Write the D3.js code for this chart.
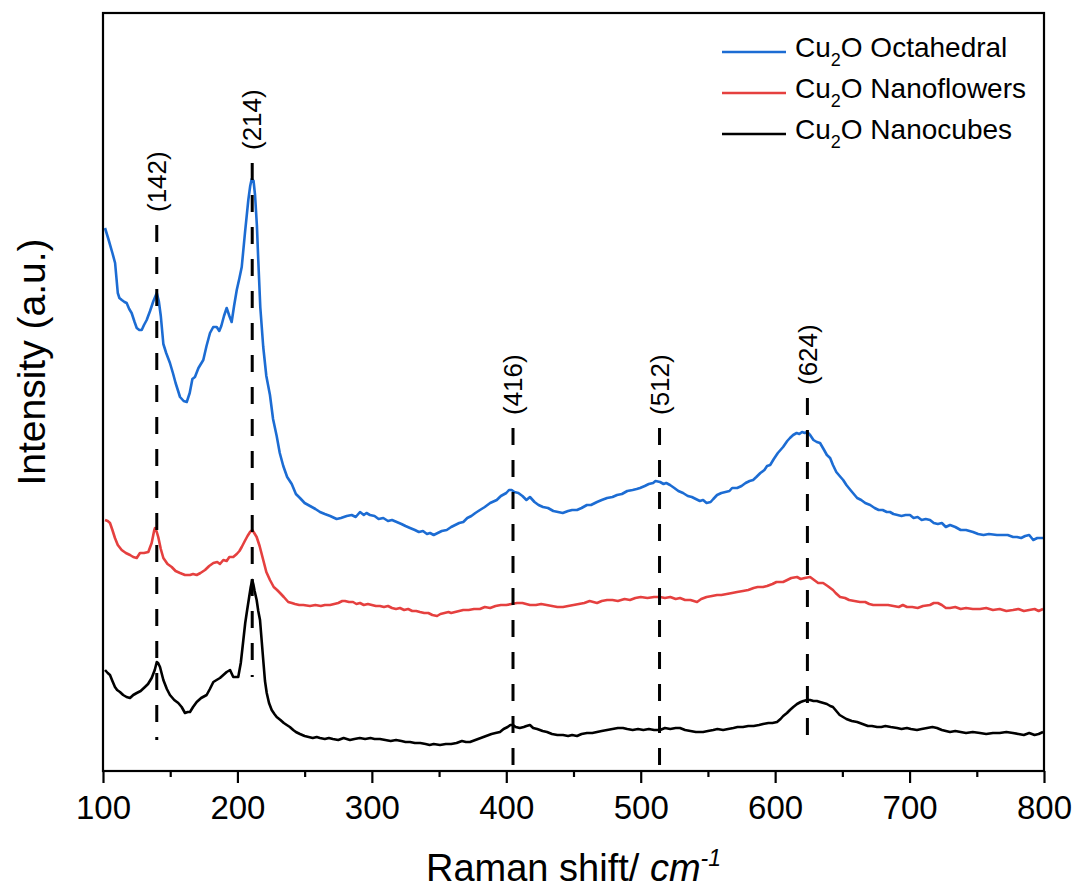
<!DOCTYPE html>
<html>
<head>
<meta charset="utf-8">
<script src="https://cdn.jsdelivr.net/npm/d3@7"></script>
<style>
  body { margin: 0; background: #fff; }
  text { font-family: "Liberation Sans", Arial, sans-serif; fill: #000; }
</style>
</head>
<body>
<script>
// Raman spectra, [shift cm-1, intensity a.u.]
var octahedral = [[101.5,543],[104,532],[107,518],[109,508],[111,478],[112.2,473],[114,471],[116,469],[117.6,468],[119.5,462],[121.3,458],[123.5,449],[125.1,443],[127,441],[128.8,441],[130.5,446],[132.5,451],[135,460],[137.5,470],[140,478],[141.5,470],[143,455],[144.9,427],[147,418],[149.8,408],[152,398],[154,388],[157.3,374],[160,370],[162.3,369],[164.5,378],[166.5,392],[168.4,394],[171,403],[174.6,411],[177,425],[179.6,438],[182,444],[184.6,444],[186.5,440],[188,445],[190,455],[192,463],[194,455],[195.7,449],[197.5,465],[199.5,481],[201.5,493],[203.2,504],[205.6,538],[208.1,571],[209.5,585],[210.6,592],[212,590],[213.1,576],[214.5,545],[215.5,511],[217,464],[219.2,424],[221.5,395],[224.2,376],[226.5,352],[229.2,335],[231.5,318],[234.1,305],[237,294],[240.4,287],[243.5,277],[246.5,273],[250,268],[254,265],[258,262],[261.4,259],[265,257],[269,255],[273.8,252],[277,253],[281.3,255],[285,256],[288,254],[291.2,259],[294,256],[296,258],[298.6,256],[302,255],[305,252],[308.5,253],[312,250],[315,251],[318.5,249],[322,247],[325,245],[328.4,243],[332,241],[335,239],[338,240],[341,237],[343.3,238],[346,236],[349,238],[352,240],[355.7,241],[359,244],[362,246],[365,248],[368,249],[371,253],[374,255],[377,258],[380.4,261],[384,264],[388,268],[392.9,271],[396,275],[400,278],[402,281],[404,281],[406,279],[409,278],[412,275],[415,271],[417.6,274],[421,269],[424,266],[427.3,264],[431,263],[435,260],[438.5,259],[442,258],[446,260],[449,261],[452.6,261],[456,263],[460,266],[463,266],[467.5,269],[471,271],[475,273],[479,274],[482.4,276],[486,277],[490,280],[494,281],[497,282],[499.5,283],[503,285],[506,287],[509.2,288],[511,290],[514.4,289],[517,287],[519,288],[521.8,286],[525,283],[528,280],[531.5,278],[535,275],[538,274],[541,272],[544,270],[546.4,271],[549,268],[552,269],[554,272],[556.8,276],[560,278],[563,279],[566,280],[568,283],[571.7,283],[575,285],[578,288],[581,290],[583.6,291],[586,294],[589,298],[592,301],[594,305],[596.3,306],[599,312],[602,318],[605.9,324],[609,330],[611,333],[613.4,336],[616,338],[618,337],[620,339],[622,338],[623.8,339],[626,336],[628.5,331],[631,329],[633.4,328],[636,322],[638.5,316],[640.9,313],[643,306],[645.5,299],[648,295],[650.6,291],[653,286],[656,281],[658.5,277],[661,273],[664,271],[667,268],[670.7,266],[674,263],[677,261],[680,261],[683,259],[685.4,259],[688,257],[691,256],[694,255],[697,256],[700.3,256],[703,253],[706,254],[709,251],[712,252],[715.2,251],[718,248],[721,247],[724,248],[727,244],[730.1,246],[734,244],[738,241],[742,241],[747.2,239],[751,237],[755,236],[759,237],[765,236],[769,236],[773,236],[777,234],[779.9,234],[783,233],[786,235],[789,236],[792,231],[795,233],[799.3,233]];

var nanoflowers = [[101.5,251],[103.5,250],[105.2,248],[107,241],[108.9,233],[111,226],[113.9,221],[117,218],[120.1,216],[122.5,214],[125.1,213],[127.5,218],[130.5,218],[133.7,219],[136.2,228],[138,240],[138.7,243],[140,239],[141.1,234],[143,222],[144.9,213],[148,207],[151.1,204],[154,200],[157.3,198],[161,196],[164.7,196],[167,197],[169.7,196],[172.5,198],[175.9,201],[179,205],[182.1,208],[185,209],[187,207],[189.5,211],[192,210],[194,214],[196.9,214],[199.5,217],[201.5,220],[203.2,224],[205.5,230],[207.5,235],[209.4,239],[211,241],[212.5,238],[214.3,234],[216.5,225],[219.2,211],[221.5,199],[224.2,191],[227,184],[229.5,181],[231.7,178],[234.5,174],[237.8,169],[240.5,168],[242.8,167],[246,166],[249,166],[254,165],[258,166],[262,165],[265,166],[268.9,166],[272,167],[275,168],[278,170],[280,170],[283,169],[286,169],[288.5,167],[291.2,168],[294,166],[297,167],[300,166],[303,165],[306,165],[309,164],[312,165],[315,163],[318,162],[320.9,163],[324,161],[327,162],[330,160],[333,160],[335.8,159],[339,158],[342,158],[345,156],[348.5,155],[351,157],[354,158],[357,159],[359,158],[361.9,159],[365,160],[368,161],[372,161],[376,162],[380.4,162],[384,164],[388,163],[392,165],[396,166],[400,166],[404,167],[408,168],[412,168],[417.6,166],[422,166],[426,167],[430,166],[434,165],[438,164],[442.2,164],[446,165],[450,166],[454,167],[458,168],[462,170],[467.5,168],[471,170],[475,171],[479,171],[483,170],[488,172],[492,171],[496,173],[500,174],[505,173],[510,174],[514.4,174],[518,173],[522,174],[526,172],[529.2,173],[533,171],[537,171],[541.9,169],[545,172],[549,174],[553,175],[556.8,176],[560,176],[564,177],[568,178],[571.7,179],[576,180],[580,181],[584,183],[587,184],[591,184],[594,185],[598,187],[601,189],[605.9,189],[609,191],[612,193],[616.3,194],[619,192],[622,193],[626,194],[629,191],[632,188],[635.7,188],[639,185],[643,181],[645,178],[648.3,174],[652,173],[655,171],[659,170],[663.1,169],[667,169],[670,167],[673,166],[676,166],[680.3,166],[684,166],[688,165],[692,164],[695,166],[698.1,164],[702,164],[706,163],[710,165],[715.2,166],[718,168],[721,168],[724,166],[727,163],[730.1,163],[734,164],[738,162],[742,163],[747,162],[752.4,162],[757,163],[762,161],[767,162],[772,160],[776.9,161],[781,162],[785,160],[789,161],[793,162],[796,160],[799.3,162]];

var nanocubes = [[101.5,101],[103.5,98],[105.2,96],[107,90],[108.9,84],[110.5,81],[112.6,79],[115,76],[117.5,74],[120.1,73],[122.5,76],[125.1,78],[128,80],[131.2,84],[133.5,87],[136.2,93],[138.5,101],[140,109],[141,108],[142.4,104],[144.9,91],[147.5,82],[149.8,76],[153,71],[156,68],[158.5,64],[161,58],[163,59],[164.7,59],[167,64],[169.7,69],[173,73],[177.1,76],[179.5,82],[182.1,89],[184.5,91],[187,93],[189.5,96],[192,99],[194.5,101],[196.9,94],[198.5,94],[200.6,94],[202.5,108],[204.4,131],[205.8,148],[206.9,158],[208.5,172],[209.9,184],[211,191],[211.8,187],[212.8,180],[214.3,171],[215.5,160],[216.8,151],[218,131],[219.2,111],[220.5,90],[221.8,78],[223.5,68],[225.5,61],[227.5,57],[229.2,54],[232,51],[234.5,48],[236.7,46],[239,44],[241.5,41],[243.5,39],[246.5,37],[250,35],[253,34],[256,33],[259,34],[261.4,33],[265,32],[268,33],[271,32],[275,31],[279,33],[283.7,31],[287,32],[291,33],[295,32],[299,33],[302,32],[306,32],[310,31],[314,30],[318,31],[322,30],[325,29],[328.4,29],[332,28],[336,28],[340,27],[343,26],[346,27],[350.7,26],[355,27],[359,27],[363,28],[367,30],[370,29],[373,29],[377,31],[381,33],[385,35],[389,37],[392,38],[395.3,39],[398,42],[401,44],[403,46],[405,46],[407,44],[410,43],[413,44],[415,45],[417.6,46],[420,43],[423,42],[427,40],[430.3,39],[434,37],[438,36],[442.2,36],[446,35],[449,36],[452.6,35],[456,37],[460,38],[464,38],[467.5,39],[471,40],[475,41],[479,42],[483,43],[486.8,43],[490,42],[494,41],[498,42],[502,41],[506,42],[510,41],[514.4,41],[518,43],[522,42],[526,43],[529.2,43],[533,41],[537,40],[541,39],[546.4,39],[550,40],[554,41],[557,42],[561.3,41],[565,42],[569,43],[572,44],[576.1,44],[580,45],[584,45],[588,46],[591,47],[595,48],[598,48],[601.4,49],[604,52],[606,55],[608.8,58],[611,61],[613.5,64],[616.3,67],[619,69],[621,70],[623.8,71],[626,71],[628.5,70],[631,70],[633.4,69],[636,68],[638.5,67],[641,65],[643,64],[645.5,60],[648,56],[650.5,54],[653,52],[657,50],[661,49],[665,47],[669,45],[672,45],[675.8,44],[679,44],[682,45],[686,44],[690.7,43],[694,42],[698,43],[701,42],[705.5,41],[709,42],[713,43],[717,44],[720.4,43],[724,41],[727,40],[730.1,39],[734,40],[738,39],[742,38],[747,39],[752.4,38],[757,37],[762,38],[767,38],[772,39],[776.9,38],[781,37],[785,36],[789,38],[793,36],[796,37],[799.3,39]];

var seriesNames = ["Octahedral", "Nanoflowers", "Nanocubes"];
var seriesColors = ["#1c6cd3", "#e5403f", "#000000"];

// peak markers: where the dashed line sits, its label, and its span
var peakShift = [140, 211, 405, 514, 624];
var peakLabel = ["(142)", "(214)", "(416)", "(512)", "(624)"];
var peakTop = [546, 608, 343, 343, 373];
var peakBottom = [31, 94, 6, 3, 31];

var majorTicks = [100, 200, 300, 400, 500, 600, 700, 800];
var minorTicks = [150, 250, 350, 450, 550, 650, 750];

var svg = d3.select("body").append("svg")
    .attr("width", 1076)
    .attr("height", 894);

var x = d3.scaleLinear().domain([100, 800]).range([103, 1044]);
var y = d3.scaleLinear().domain([0, 758]).range([771, 13]);

var line = d3.line()
    .x(function(d){ return x(d[0]); })
    .y(function(d){ return y(d[1]); });

//spectra
var allSeries = [octahedral, nanoflowers, nanocubes];
svg.selectAll("path.spectrum")
    .data(allSeries)
    .enter()
    .append("path")
    .attr("class", "spectrum")
    .attr("d", line)
    .attr("fill", "none")
    .attr("stroke", function(d, i){ return seriesColors[i]; })
    .attr("stroke-width", 2.6)
    .attr("stroke-linejoin", "round");

//dashed peak lines
svg.selectAll("line.peak")
    .data(peakShift)
    .enter()
    .append("line")
    .attr("class", "peak")
    .attr("x1", function(d){ return x(d); })
    .attr("x2", function(d){ return x(d); })
    .attr("y1", function(d, i){ return y(peakTop[i]); })
    .attr("y2", function(d, i){ return y(peakBottom[i]); })
    .attr("stroke", "#000")
    .attr("stroke-width", 3)
    .attr("stroke-dasharray", "17,15");

svg.selectAll("text.peak")
    .data(peakShift)
    .enter()
    .append("text")
    .attr("class", "peak")
    .attr("transform", function(d, i){
        return "translate(" + x(d) + "," + (y(peakTop[i]) - 13) + ") rotate(-90)";
    })
    .attr("dy", "0.35em")
    .style("font-size", "26px")
    .text(function(d, i){ return peakLabel[i]; });

//x axis, major and minor ticks
var axisG = svg.append("g").attr("transform", "translate(0,771)");
axisG.call(d3.axisBottom(x).tickValues(majorTicks).tickSize(12).tickPadding(13)
    .tickFormat(d3.format("d")));
axisG.selectAll("text").style("font-size", "33px").attr("font-family", null);
axisG.selectAll("line").attr("stroke-width", 2.2);
axisG.select(".domain").remove();

var minorG = svg.append("g").attr("transform", "translate(0,771)");
minorG.call(d3.axisBottom(x).tickValues(minorTicks).tickSize(6).tickFormat(""));
minorG.selectAll("line").attr("stroke-width", 2.2);
minorG.select(".domain").remove();

//frame
svg.append("rect")
    .attr("x", x(100))
    .attr("y", y(758))
    .attr("width", x(800) - x(100))
    .attr("height", y(0) - y(758))
    .attr("fill", "none")
    .attr("stroke", "#000")
    .attr("stroke-width", 2.2);

//axis titles
var xt = svg.append("text")
    .attr("x", (x(100) + x(800)) / 2)
    .attr("y", 881)
    .attr("text-anchor", "middle")
    .style("font-size", "38px");
xt.append("tspan").text("Raman shift/ ");
xt.append("tspan").style("font-style", "italic").text("cm");
xt.append("tspan").style("font-style", "italic").style("font-size", "23px")
    .attr("dy", "-15").text("-1");

svg.append("text")
    .attr("transform", "translate(45," + 362 + ") rotate(-90)")
    .attr("text-anchor", "middle")
    .style("font-size", "39px")
    .text("Intensity (a.u.)");

//legend
var legend = svg.selectAll("g.legend")
    .data(seriesNames)
    .enter()
    .append("g")
    .attr("class", "legend")
    .attr("transform", function(d, i){ return "translate(722," + (52 + i * 41) + ")"; });

legend.append("line")
    .attr("x1", 0).attr("x2", 64)
    .attr("stroke", function(d, i){ return seriesColors[i]; })
    .attr("stroke-width", 2.6);

var lt = legend.append("text")
    .attr("x", 73)
    .attr("y", 5)
    .style("font-size", "28px");
lt.append("tspan").text("Cu");
lt.append("tspan").style("font-size", "18px").attr("dy", 9).text("2");
lt.append("tspan").attr("dy", -9).text(function(d){ return "O " + d; });
</script>
</body>
</html>
